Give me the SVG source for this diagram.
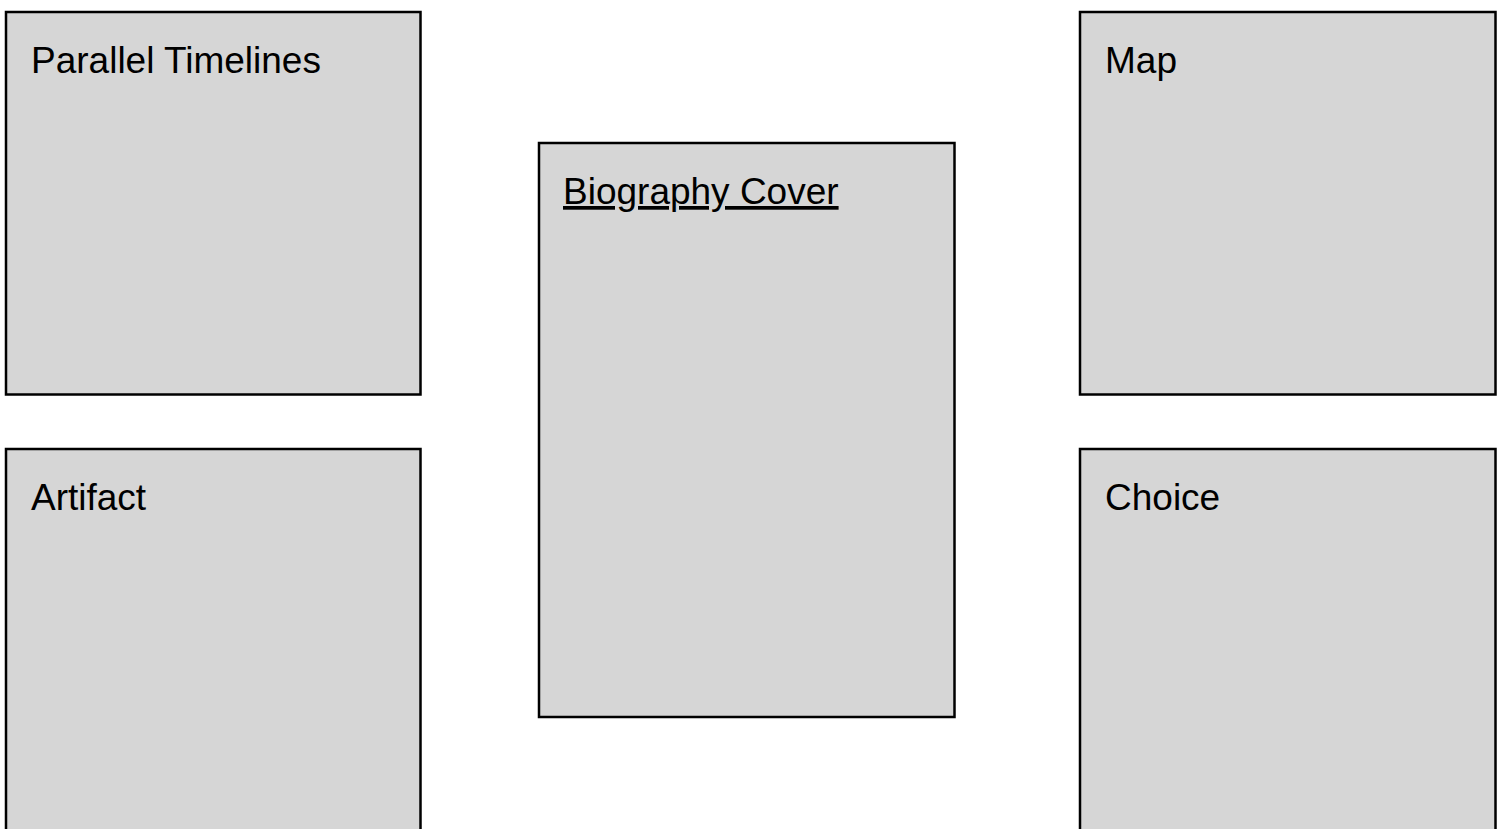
<svg xmlns="http://www.w3.org/2000/svg" width="1501" height="829" viewBox="0 0 1501 829">
<style>
.box{fill:#d6d6d6;stroke:#000;stroke-width:2.5}
.lbl{font-family:"Liberation Sans",Arial,Helvetica,sans-serif;font-size:37px;fill:#000}
</style>
<rect width="1501" height="829" fill="#fff"/>
<g id="parallel-timelines"><rect class="box" x="6" y="12" width="414.5" height="382.5"/><text class="lbl" x="31" y="73">Parallel Timelines</text></g>
<g id="artifact"><rect class="box" x="6" y="449" width="414.5" height="400"/><text class="lbl" x="31" y="510">Artifact</text></g>
<g id="biography-cover"><rect class="box" x="539" y="143" width="415.5" height="574"/><text class="lbl" x="563" y="204" text-decoration="underline">Biography Cover</text></g>
<g id="map"><rect class="box" x="1080" y="12" width="415.5" height="382.5"/><text class="lbl" x="1105" y="73">Map</text></g>
<g id="choice"><rect class="box" x="1080" y="449" width="415.5" height="400"/><text class="lbl" x="1105" y="510">Choice</text></g>
<g id="connectors"/>
</svg>
